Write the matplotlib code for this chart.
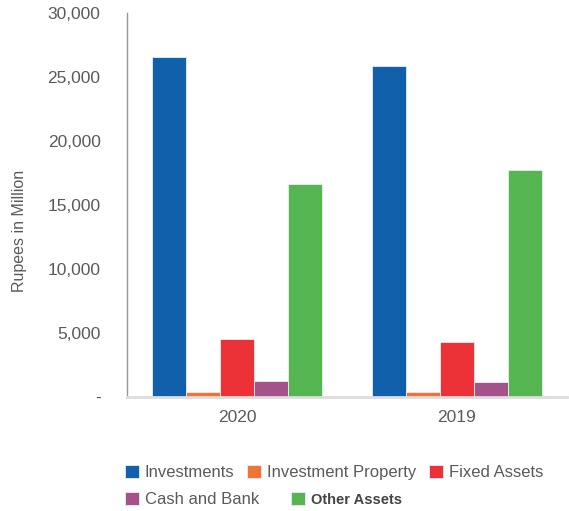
import matplotlib

matplotlib.use("Agg")
import matplotlib.pyplot as plt
import numpy as np
from matplotlib.ticker import FuncFormatter

years = ["2020", "2019"]
series = ["Investments", "Investment Property", "Fixed Assets", "Cash and Bank", "Other Assets"]
investments = [26600, 25850]
investment_property = [400, 400]
fixed_assets = [4550, 4300]
cash_and_bank = [1250, 1170]
other_assets = [16650, 17750]
colors = ["#1060ac", "#f07535", "#ec3237", "#a6528a", "#55b551"]

plt.rcParams["font.family"] = ["Liberation Sans", "DejaVu Sans"]
TXT = "#5a5a5a"

fig = plt.figure(figsize=(5.69, 5.11), dpi=100)
ax = fig.add_axes([127 / 569, 1 - 397 / 511, 440 / 569, 384 / 511])

values = [investments, investment_property, fixed_assets, cash_and_bank, other_assets]
x = np.arange(len(years))
w = 170 / 220 / len(series)
handles = []
for i, (name, vals, c) in enumerate(zip(series, values, colors)):
    h = ax.bar(x + (i - 2) * w, vals, w, color=c, edgecolor="#e8eef4", linewidth=0.6, label=name)
    handles.append(h)

ax.set_xlim(-0.5, 1.5)
ax.set_ylim(0, 30000)
ax.set_yticks(range(0, 30001, 5000))
ax.yaxis.set_major_formatter(FuncFormatter(lambda v, p: "-" if v == 0 else f"{v:,.0f}"))
ax.set_xticks(x)
ax.set_xticklabels(years)
ax.tick_params(length=0, labelsize=12.5, colors=TXT)
ax.tick_params(axis="y", pad=19)
ax.tick_params(axis="x", pad=9)
for s in ["top", "right"]:
    ax.spines[s].set_visible(False)
ax.spines["left"].set_color("#999999")
ax.spines["left"].set_linewidth(1.0)
ax.spines["bottom"].set_color("#dddddd")
ax.spines["bottom"].set_linewidth(2)

ax.set_ylabel("Rupees in Million", fontsize=11.5, color=TXT)
ax.yaxis.set_label_coords(-0.228, 0.432)

leg1 = fig.legend(handles[:3], series[:3], loc="upper left", bbox_to_anchor=(118 / 569, 1 - 458 / 511),
                  ncol=3, frameon=False, fontsize=12, handlelength=0.85, handleheight=0.85,
                  handletextpad=0.35, columnspacing=0.75, borderaxespad=0)
for t in leg1.get_texts():
    t.set_color(TXT)
leg2 = fig.legend(handles[3:], series[3:], loc="upper left", bbox_to_anchor=(118 / 569, 1 - 485 / 511),
                  ncol=2, frameon=False, fontsize=12, handlelength=0.85, handleheight=0.85,
                  handletextpad=0.35, columnspacing=1.9, borderaxespad=0)
for t in leg2.get_texts():
    t.set_color(TXT)
leg2.get_texts()[1].set_fontweight("bold")
leg2.get_texts()[1].set_fontsize(10.5)
leg2.get_texts()[1].set_color("#444444")

fig.savefig("out.png", dpi=100)
